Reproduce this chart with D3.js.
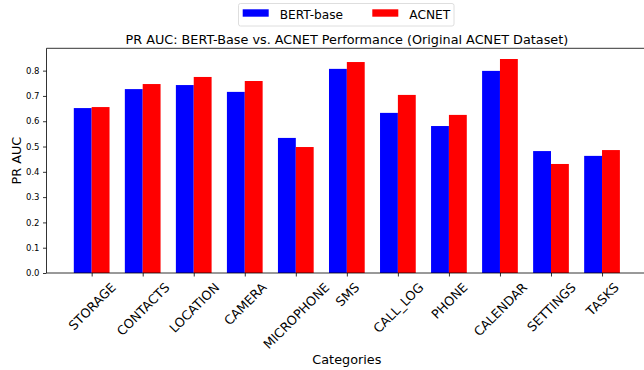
<!DOCTYPE html>
<html>
<head>
<meta charset="utf-8">
<script src="https://cdn.jsdelivr.net/npm/d3@7"></script>
<style>
  html, body { margin: 0; padding: 0; background: #fff; }
  svg { display: block; font-family: "DejaVu Sans", sans-serif; }
</style>
</head>
<body>
<svg id="chart" width="644" height="370"></svg>
<script>
// Permission categories and PR AUC per model
const categories = ["STORAGE", "CONTACTS", "LOCATION", "CAMERA", "MICROPHONE", "SMS",
                    "CALL_LOG", "PHONE", "CALENDAR", "SETTINGS", "TASKS"];
const bertBase = [0.652, 0.727, 0.743, 0.716, 0.534, 0.807, 0.633, 0.581, 0.799, 0.482, 0.463];
const acnet    = [0.656, 0.747, 0.775, 0.759, 0.498, 0.834, 0.704, 0.625, 0.846, 0.431, 0.486];
const yTicks = [0.0, 0.1, 0.2, 0.3, 0.4, 0.5, 0.6, 0.7, 0.8];
const seriesNames = ["BERT-base", "ACNET"];
const seriesColors = ["#0000ff", "#ff0000"];

const barWidth = 0.35;
const svg = d3.select("#chart");

const plotLeft = 46.5, plotRight = 647.2, plotTop = 48.3, plotBottom = 273;
const pad = 0.05 * (categories.length - 1 + barWidth * 2);
const x = d3.scaleLinear()
  .domain([-barWidth - pad, categories.length - 1 + barWidth + pad])
  .range([plotLeft, plotRight]);
const yMax = d3.max(bertBase.concat(acnet)) * 1.05;
const y = d3.scaleLinear().domain([0, yMax]).range([plotBottom, plotTop]);

// Bars: BERT-base left of the tick, ACNET right of it
const series = [bertBase, acnet];
series.forEach((vals, s) => {
  svg.append("g").selectAll("rect")
    .data(vals)
    .join("rect")
    .attr("x", (d, i) => x(i + (s === 0 ? -barWidth : 0)))
    .attr("width", (d, i) => x(i + barWidth) - x(i))
    .attr("y", d => y(d))
    .attr("height", d => y(0) - y(d))
    .attr("fill", seriesColors[s]);
});

// Frame
const frame = svg.append("g").attr("fill", "none").attr("stroke", "#000").attr("stroke-width", 0.8);
frame.append("line").attr("x1", plotLeft).attr("x2", plotRight).attr("y1", plotTop).attr("y2", plotTop);
frame.append("line").attr("x1", plotLeft).attr("x2", plotRight).attr("y1", plotBottom).attr("y2", plotBottom);
frame.append("line").attr("x1", plotLeft).attr("x2", plotLeft).attr("y1", plotTop).attr("y2", plotBottom);
frame.append("line").attr("x1", plotRight).attr("x2", plotRight).attr("y1", plotTop).attr("y2", plotBottom);

// Y axis
const yAxis = d3.axisLeft(y).tickValues(yTicks).tickFormat(d3.format(".1f"))
  .tickSize(3.5).tickPadding(3.5);
const gy = svg.append("g").attr("transform", `translate(${plotLeft},0)`).call(yAxis);
gy.select(".domain").remove();
gy.selectAll(".tick line").attr("stroke-width", 0.8);
gy.selectAll(".tick text").attr("font-size", 8.5).attr("font-family", "DejaVu Sans").attr("fill", "#000");

// X axis with rotated labels
const tickFont = 12.7;
const xAxis = d3.axisBottom(x).tickValues(d3.range(categories.length))
  .tickFormat(i => categories[i]).tickSize(3.5);
const gx = svg.append("g").attr("transform", `translate(0,${plotBottom})`).call(xAxis);
gx.select(".domain").remove();
gx.selectAll(".tick line").attr("stroke-width", 0.8);
gx.selectAll(".tick text")
  .attr("font-size", tickFont).attr("font-family", "DejaVu Sans").attr("fill", "#000")
  .attr("text-anchor", "middle").attr("dy", null).attr("dominant-baseline", "central")
  .each(function () {
    const t = d3.select(this);
    const len = this.getComputedTextLength();
    const h = tickFont * 0.9;
    const half = (len + h) * Math.SQRT1_2 / 2;
    t.attr("y", null).attr("transform", `translate(0,${8 + half}) rotate(-45)`);
  });

// Titles
const cx = (plotLeft + plotRight) / 2;
svg.append("text").attr("x", cx).attr("y", 43.5).attr("text-anchor", "middle")
  .attr("font-size", 12.8).text("PR AUC: BERT-Base vs. ACNET Performance (Original ACNET Dataset)");
svg.append("text").attr("x", cx).attr("y", 363.5).attr("text-anchor", "middle")
  .attr("font-size", 12.8).text("Categories");
svg.append("text").attr("transform", `translate(20.5,${(plotTop + plotBottom) / 2}) rotate(-90)`)
  .attr("text-anchor", "middle").attr("font-size", 12.8).text("PR AUC");

// Legend
const lg = svg.append("g");
lg.append("rect").attr("x", 238.5).attr("y", 3.5).attr("width", 215.5).attr("height", 22.5)
  .attr("rx", 2).attr("fill", "#fff").attr("stroke", "#d6d6d6").attr("stroke-width", 0.8);
const entryX = [242.7, 372.3];
seriesNames.forEach((name, i) => {
  lg.append("rect").attr("x", entryX[i]).attr("y", 9.3).attr("width", 26).attr("height", 7.4)
    .attr("fill", seriesColors[i]);
  lg.append("text").attr("x", entryX[i] + 37).attr("y", 19.3).attr("font-size", 12.2).text(name);
});
</script>
</body>
</html>
